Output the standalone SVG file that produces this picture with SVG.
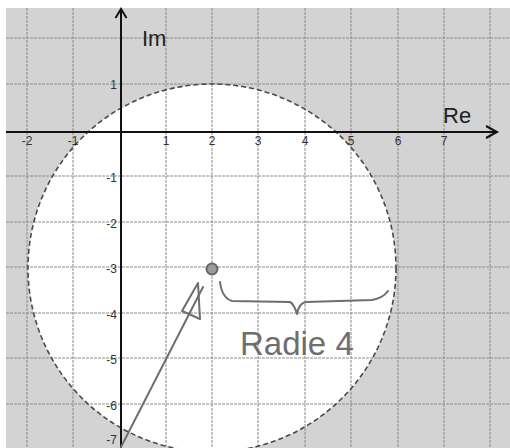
<svg xmlns="http://www.w3.org/2000/svg" width="510" height="448" viewBox="0 0 510 448">
<style>
.grid line{stroke:#8c8c8c;stroke-width:1;stroke-dasharray:3 1}
.tick{font-family:"Liberation Sans",Arial,sans-serif;font-size:12px;fill:#333}
.axlabel{font-family:"Liberation Sans",Arial,sans-serif;font-size:22px;fill:#222}
.hand{fill:none;stroke:#6e6e6e;stroke-width:2;stroke-linecap:round;stroke-linejoin:round}
.axis{stroke:#111;stroke-width:2;fill:none}
</style>
<rect x="0" y="0" width="510" height="448" fill="#ffffff"/>
<rect x="6" y="8" width="504" height="440" fill="#d3d3d3"/>
<g id="disc">
<circle cx="212" cy="268" r="184" fill="#ffffff"/>
</g>
<g id="grid" class="grid">
<line x1="27" y1="8" x2="27" y2="448"/>
<line x1="73" y1="8" x2="73" y2="448"/>
<line x1="166" y1="8" x2="166" y2="448"/>
<line x1="212" y1="8" x2="212" y2="448"/>
<line x1="258" y1="8" x2="258" y2="448"/>
<line x1="305" y1="8" x2="305" y2="448"/>
<line x1="351" y1="8" x2="351" y2="448"/>
<line x1="398" y1="8" x2="398" y2="448"/>
<line x1="444" y1="8" x2="444" y2="448"/>
<line x1="490" y1="8" x2="490" y2="448"/>
<line x1="6" y1="38" x2="510" y2="38"/>
<line x1="6" y1="84" x2="510" y2="84"/>
<line x1="6" y1="176" x2="510" y2="176"/>
<line x1="6" y1="222" x2="510" y2="222"/>
<line x1="6" y1="267" x2="510" y2="267"/>
<line x1="6" y1="313" x2="510" y2="313"/>
<line x1="6" y1="358" x2="510" y2="358"/>
<line x1="6" y1="404" x2="510" y2="404"/>
</g>
<g id="boundary">
<circle cx="212" cy="268" r="184" fill="none" stroke="#4a4a4a" stroke-width="1.6" stroke-dasharray="5 3"/>
</g>
<g id="axes">
<line class="axis" x1="121" y1="448" x2="121" y2="10"/>
<polyline class="axis" points="115.5,18 121,9 126.5,18" stroke-width="1.6"/>
<line class="axis" x1="6" y1="132" x2="496" y2="132"/>
<polyline class="axis" points="486,126 497,132 486,138" stroke-width="1.6"/>
<text class="axlabel" x="142" y="46">Im</text>
<text class="axlabel" x="443" y="123">Re</text>
</g>
<g id="ticks" class="tick">
<text x="27" y="145" text-anchor="middle">-2</text>
<text x="73" y="145" text-anchor="middle">-1</text>
<text x="166" y="145" text-anchor="middle">1</text>
<text x="212" y="145" text-anchor="middle">2</text>
<text x="258" y="145" text-anchor="middle">3</text>
<text x="305" y="145" text-anchor="middle">4</text>
<text x="351" y="145" text-anchor="middle">5</text>
<text x="398" y="145" text-anchor="middle">6</text>
<text x="444" y="145" text-anchor="middle">7</text>
<text x="117" y="89" text-anchor="end">1</text>
<text x="117" y="182" text-anchor="end">-1</text>
<text x="117" y="228" text-anchor="end">-2</text>
<text x="117" y="273" text-anchor="end">-3</text>
<text x="117" y="319" text-anchor="end">-4</text>
<text x="117" y="364" text-anchor="end">-5</text>
<text x="117" y="410" text-anchor="end">-6</text>
<text x="117" y="444" text-anchor="end">-7</text>
</g>
<g id="center">
<circle cx="212" cy="269" r="5.5" fill="#9a9a9a" stroke="#666" stroke-width="2"/>
</g>
<g id="connectors">
<path class="hand" d="M121,447 L203,287"/>
<path class="hand" d="M198,283 L182,311 L200,319 Z"/>
</g>
<g id="radius-note">
<path class="hand" d="M220,282 Q222,298 232,301 L290,302 Q294,304 297,314 Q299,303 306,302 L372,300 Q383,298 388,291"/>
<text x="240" y="355" font-family="'Liberation Sans',Arial,sans-serif" font-size="33" fill="#6e6e6e">Radie 4</text>
</g>
</svg>
